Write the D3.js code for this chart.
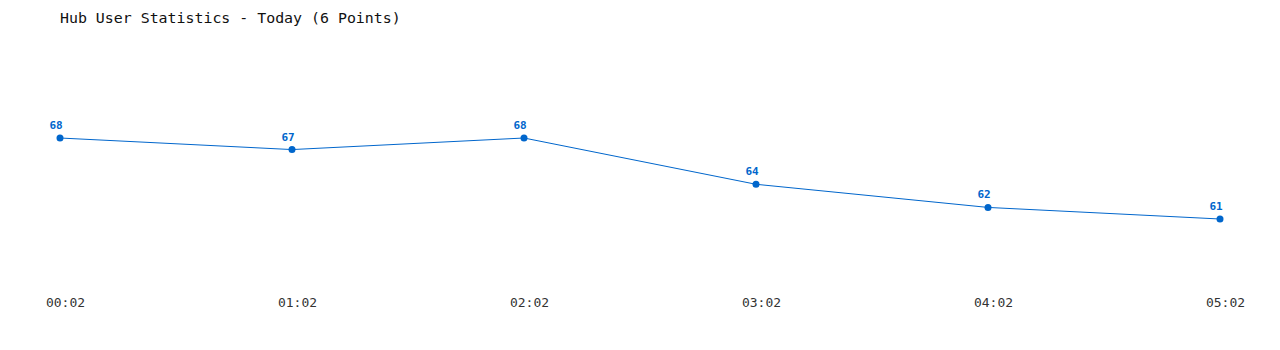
<!DOCTYPE html>
<html>
<head>
<meta charset="utf-8">
<script src="https://cdn.jsdelivr.net/npm/d3@7"></script>
<style>
  body { margin: 0; background: #fff; }
  svg text { font-family: "DejaVu Sans Mono", monospace; }
</style>
</head>
<body>
<div id="chart"></div>
<script>
// hub user counts, one per hour
const times = ["00:02", "01:02", "02:02", "03:02", "04:02", "05:02"];
const users = [68, 67, 68, 64, 62, 61];
const title = "Hub User Statistics - Today (6 Points)";

const width = 1280, height = 350;
const blue = "#0066cc";

let svg = d3.select("#chart").append("svg")
    .attr("width", width)
    .attr("height", height);

svg.append("text")
    .attr("x", 60)
    .attr("y", 23)
    .attr("font-size", 14.9)
    .attr("fill", "#111")
    .text(title);

let x = d3.scalePoint()
    .domain(times)
    .range([60, 1220]);

let y = d3.scaleLinear()
    .domain([d3.min(users), d3.max(users)])
    .range([219, 138]);

// x axis labels only, no line
let xAxis = d3.axisBottom(x).tickSize(0).tickPadding(0);
let gx = svg.append("g")
    .attr("transform", "translate(5, 298)")
    .call(xAxis);
gx.select(".domain").remove();
gx.selectAll("text")
    .attr("font-size", 13)
    .attr("font-family", "DejaVu Sans Mono, monospace")
    .attr("fill", "#333");

let line = d3.line()
    .x((d, i) => x(times[i]))
    .y(d => y(d));

svg.append("path")
    .datum(users)
    .attr("fill", "none")
    .attr("stroke", blue)
    .attr("stroke-width", 1)
    .attr("d", line);

svg.selectAll(".dot")
    .data(users)
    .enter().append("circle")
    .attr("class", "dot")
    .attr("cx", (d, i) => x(times[i]))
    .attr("cy", d => y(d))
    .attr("r", 3.5)
    .attr("fill", blue);

svg.selectAll(".val")
    .data(users)
    .enter().append("text")
    .attr("class", "val")
    .attr("x", (d, i) => x(times[i]) - 4)
    .attr("y", d => y(d) - 9)
    .attr("text-anchor", "middle")
    .attr("font-size", 11)
    .attr("font-weight", "bold")
    .attr("fill", blue)
    .text(d => d);
</script>
</body>
</html>
